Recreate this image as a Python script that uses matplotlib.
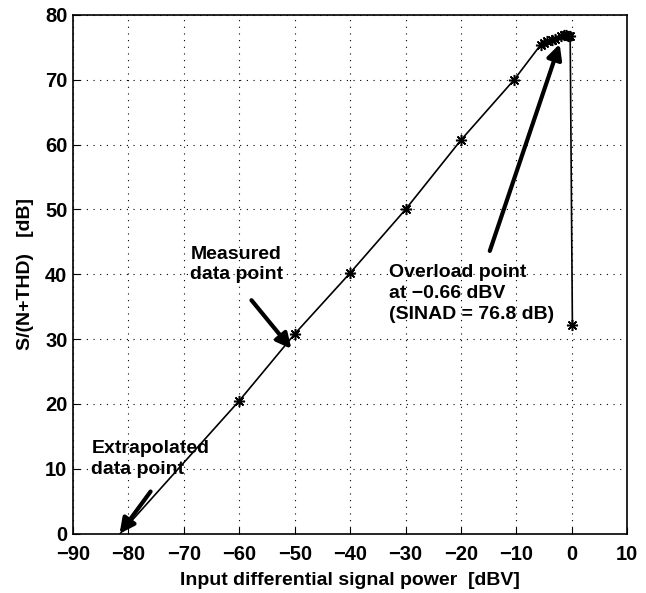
import matplotlib
matplotlib.use("Agg")
import matplotlib.pyplot as plt

plt.rcParams['font.family'] = ['Liberation Sans', 'DejaVu Sans']
plt.rcParams['font.weight'] = 'bold'

# extrapolated start of the line (no marker)
x_extrap = [-81.5, -60.0]
y_extrap = [0.0, 20.5]

# measured points
x_meas = [-60, -50, -40, -30, -20, -10.4, -5.6, -5.0, -4.4, -3.6, -3.0,
          -2.0, -1.5, -1.0, -0.66, -0.3, 0.1]
y_meas = [20.5, 30.8, 40.2, 50.0, 60.7, 70.0, 75.4, 75.7, 75.9, 76.1, 76.3,
          76.8, 76.9, 76.9, 76.8, 76.8, 32.2]

xticks = list(range(-90, 11, 10))
yticks = list(range(0, 81, 10))

fig = plt.figure(figsize=(6.46, 5.93), dpi=100)
ax = fig.add_axes([0.113, 0.1, 0.858, 0.875])

ax.plot(x_extrap, y_extrap, color='k', lw=1.2)
ax.plot(x_meas, y_meas, color='k', lw=1.2, marker=(8, 2, 0), markersize=8, mew=1.1)

ax.set_xlim(-90, 10)
ax.set_ylim(0, 80)
ax.set_xticks(xticks)
ax.set_yticks(yticks)
ax.tick_params(direction='in', labelsize=14.5, length=5)
ax.tick_params(axis='x', pad=8)
ax.tick_params(axis='y', pad=4)
ax.grid(True, color='k', linestyle=(0, (1, 5)), lw=0.8)
for s in ax.spines.values():
    s.set_linewidth(1.2)

ax.set_xlabel("Input differential signal power  [dBV]", fontsize=14, fontweight='bold', labelpad=6)
ax.set_ylabel("S/(N+THD)   [dB]", fontsize=14, fontweight='bold', labelpad=8)

arrow = dict(arrowstyle='-|>', color='k', lw=3, mutation_scale=22, shrinkA=0, shrinkB=0)

ax.text(-60.5, 41.5, "Measured\ndata point", ha='center', va='center',
        fontsize=14, fontweight='bold', linespacing=1.3)
ax.annotate("", xy=(-50.6, 28.5), xytext=(-57.8, 36.0), arrowprops=arrow)

ax.text(-86.7, 11.5, "Extrapolated\ndata point", ha='left', va='center',
        fontsize=14, fontweight='bold', linespacing=1.3)
ax.annotate("", xy=(-81.6, 0.0), xytext=(-76.0, 6.5), arrowprops=arrow)

ax.text(-32.9, 37.0, "Overload point\nat \u22120.66 dBV\n(SINAD = 76.8 dB)",
        ha='left', va='center', fontsize=14, fontweight='bold', linespacing=1.3)
ax.annotate("", xy=(-2.2, 75.5), xytext=(-14.8, 43.6), arrowprops=arrow)

fig.savefig("out.png", dpi=100)
